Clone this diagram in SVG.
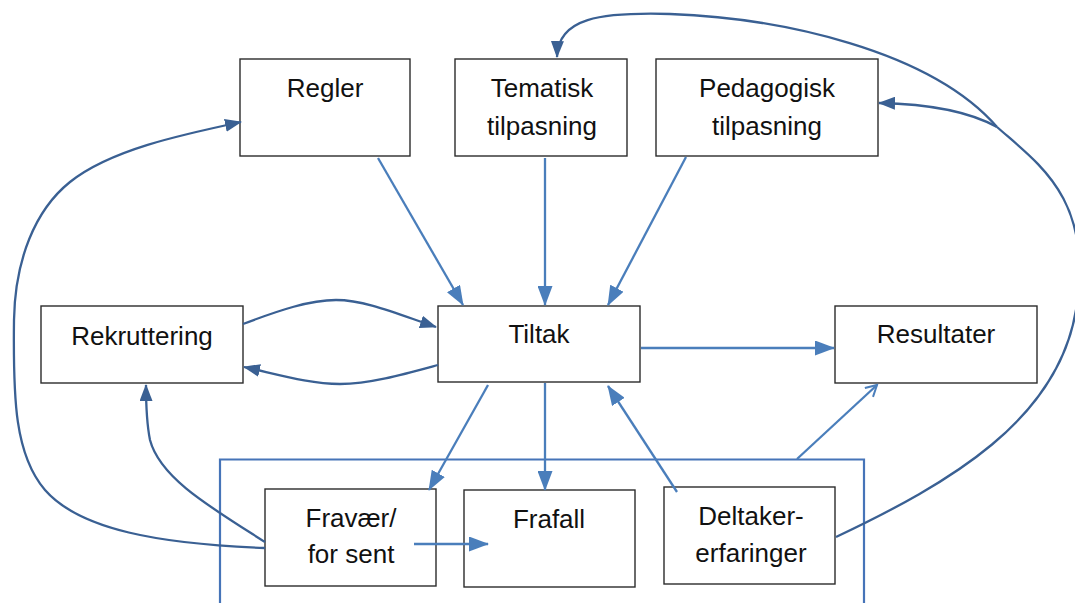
<svg xmlns="http://www.w3.org/2000/svg" width="1075" height="603" viewBox="0 0 1075 603">
  <defs>
    <style>
      .box { fill: #ffffff; stroke: #2b2b2b; stroke-width: 1.4; }
      .lbl { font-family: "Liberation Sans", Arial, sans-serif; font-size: 26px; fill: #111111; text-anchor: middle; }
      .lt { fill: none; stroke: #4a7ebb; stroke-width: 2.3; }
      .dk { fill: none; stroke: #3a6093; stroke-width: 2.3; }
      .frame { fill: none; stroke: #4674b8; stroke-width: 2.2; }
    </style>
    <marker id="headLt" markerUnits="userSpaceOnUse" markerWidth="21" markerHeight="15" refX="19" refY="7.5" orient="auto">
      <path d="M0,0 L20,7.5 L0,15 z" fill="#4a7ebb"/>
    </marker>
    <marker id="headDk" markerUnits="userSpaceOnUse" markerWidth="18" markerHeight="13" refX="16" refY="6.5" orient="auto">
      <path d="M0,0 L17,6.5 L0,13 z" fill="#3a6093"/>
    </marker>
    <marker id="headOpen" markerUnits="userSpaceOnUse" markerWidth="14" markerHeight="14" refX="12" refY="7" orient="auto">
      <path d="M1,1 L12,7 L1,13" fill="none" stroke="#4a7ebb" stroke-width="2"/>
    </marker>
  </defs>

  <!-- frame around the participant outcomes -->
  <path class="frame" d="M220,604 V459.5 H864 V604"/>

  <!-- nodes -->
  <g id="regler">
    <rect class="box" x="240" y="59" width="170" height="97"/>
    <text class="lbl" x="325" y="97">Regler</text>
  </g>
  <g id="tematisk">
    <rect class="box" x="455" y="59" width="172" height="97"/>
    <text class="lbl" x="542" y="97">Tematisk</text>
    <text class="lbl" x="542" y="135">tilpasning</text>
  </g>
  <g id="pedagogisk">
    <rect class="box" x="656" y="59" width="222" height="97"/>
    <text class="lbl" x="767" y="97">Pedagogisk</text>
    <text class="lbl" x="767" y="135">tilpasning</text>
  </g>
  <g id="rekruttering">
    <rect class="box" x="41" y="306" width="202" height="77"/>
    <text class="lbl" x="142" y="345">Rekruttering</text>
  </g>
  <g id="tiltak">
    <rect class="box" x="438" y="306" width="202" height="76"/>
    <text class="lbl" x="539" y="343">Tiltak</text>
  </g>
  <g id="resultater">
    <rect class="box" x="835" y="306" width="202" height="77"/>
    <text class="lbl" x="936" y="343">Resultater</text>
  </g>
  <g id="fravaer">
    <rect class="box" x="265" y="489" width="171" height="97"/>
    <text class="lbl" x="351" y="527">Fravær/</text>
    <text class="lbl" x="351" y="563">for sent</text>
  </g>
  <g id="frafall">
    <rect class="box" x="464" y="490" width="171" height="97"/>
    <text class="lbl" x="549" y="528">Frafall</text>
  </g>
  <g id="deltaker">
    <rect class="box" x="664" y="487" width="171" height="97"/>
    <text class="lbl" x="751" y="525">Deltaker-</text>
    <text class="lbl" x="751" y="562">erfaringer</text>
  </g>

  <!-- connectors -->
  <g id="connectors">
    <!-- straight links -->
    <path class="lt" d="M378,158 L463,305" marker-end="url(#headLt)"/>
    <path class="lt" d="M545,158 L545,305" marker-end="url(#headLt)"/>
    <path class="lt" d="M686,157 L608,305" marker-end="url(#headLt)"/>
    <path class="lt" d="M641,348 L834,348" marker-end="url(#headLt)"/>
    <path class="lt" d="M488,385 L429,490" marker-end="url(#headLt)"/>
    <path class="lt" d="M545,383 L545,490" marker-end="url(#headLt)"/>
    <path class="lt" d="M677,492 L608,386" marker-end="url(#headLt)"/>
    <path class="lt" d="M414,544 L488,544" marker-end="url(#headLt)"/>
    <path class="lt" d="M797,459 L877,385" marker-end="url(#headOpen)" stroke-width="1.9"/>

    <!-- curved links -->
    <path class="dk" d="M243,324 C280,310 310,300 336,300 C366,300 400,315 436,327" marker-end="url(#headDk)"/>
    <path class="dk" d="M438,365 C405,374 370,384 340,384 C310,384 280,375 244,367" marker-end="url(#headDk)"/>
    <path class="dk" d="M265,542 C210,507 160,478 150,440 C146,420 146,402 146,385" marker-end="url(#headDk)"/>
    <path class="dk" d="M265,548 C160,544 80,530 45,490 C15,455 13,400 14,320 C15,260 35,210 70,182 C110,150 180,135 241,122" marker-end="url(#headDk)"/>
    <path class="dk" d="M836,537 C950,483 1058,420 1076,310 S1040,165 997,127"/>
    <path class="dk" d="M997,127 C930,50 780,18 670,14 C600,12 558,18 557,57" marker-end="url(#headDk)"/>
    <path class="dk" d="M997,127 C970,112 930,104 879,103" marker-end="url(#headDk)"/>
  </g>
</svg>
